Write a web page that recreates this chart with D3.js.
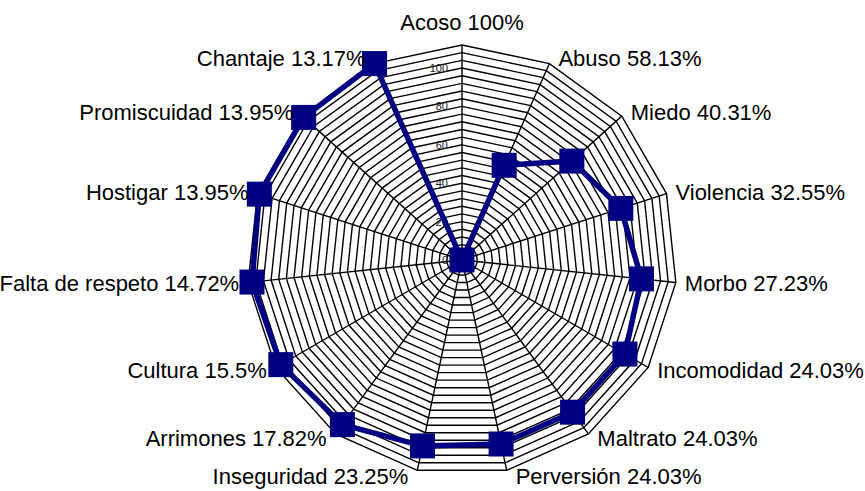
<!DOCTYPE html>
<html>
<head>
<meta charset="utf-8">
<script src="https://cdnjs.cloudflare.com/ajax/libs/d3/7.8.5/d3.min.js"></script>
<style>
  html, body { margin: 0; padding: 0; background: #fff; }
  svg { display: block; }
</style>
</head>
<body>
<svg id="chart" width="865" height="491"></svg>
<script>
// ---- data ----
const categories = ["Acoso", "Abuso", "Miedo", "Violencia", "Morbo", "Incomodidad", "Maltrato",
  "Perversión", "Inseguridad", "Arrimones", "Cultura", "Falta de respeto", "Hostigar",
  "Promiscuidad", "Chantaje"];
const percentLabels = ["100%", "58.13%", "40.31%", "32.55%", "27.23%", "24.03%", "24.03%",
  "24.03%", "23.25%", "17.82%", "15.5%", "14.72%", "13.95%", "13.95%", "13.17%"];
const values = [0, 54, 77, 87, 94, 98, 98, 98, 99, 106, 109, 110, 111, 111, 112];
const tickLabels = [0, 20, 40, 60, 80, 100];
const axisMax = 112;
const ringStep = 4;

// ---- layout ----
const W = 865, H = 491;
const cx = 462, cy = 260, R = 215;
const fontSize = 22;

const svg = d3.select("#chart");
const g = svg.append("g").attr("transform", `translate(${cx},${cy})`);

const n = categories.length;
const angle = d3.scaleLinear().domain([0, n]).range([0, 2 * Math.PI]);
const r = d3.scaleLinear().domain([0, axisMax]).range([0, R]);

const ringValues = d3.range(ringStep, axisMax + 0.001, ringStep);

// rings
const ringLine = d3.lineRadial()
  .angle((d, i) => angle(i))
  .radius(d => r(d))
  .curve(d3.curveLinearClosed);

g.append("g").selectAll("path")
  .data(ringValues)
  .join("path")
  .attr("d", v => ringLine(categories.map(() => v)))
  .attr("fill", "none")
  .attr("stroke", "#000")
  .attr("stroke-width", 1.4);

// spokes
g.append("g").selectAll("line")
  .data(categories)
  .join("line")
  .attr("x1", 0).attr("y1", 0)
  .attr("x2", (d, i) => r(axisMax) * Math.sin(angle(i)))
  .attr("y2", (d, i) => -r(axisMax) * Math.cos(angle(i)))
  .attr("stroke", "#000")
  .attr("stroke-width", 1.4);

// tick labels along first axis
g.append("g").selectAll("text")
  .data(tickLabels)
  .join("text")
  .attr("x", -14)
  .attr("y", d => -r(d) + 4)
  .attr("text-anchor", "end")
  .attr("font-family", "Liberation Sans, Arial, sans-serif")
  .attr("font-size", 11)
  .attr("fill", "#222")
  .text(d => d);

// data line
const dataLine = d3.lineRadial()
  .angle((d, i) => angle(i))
  .radius(d => r(d))
  .curve(d3.curveLinearClosed);

g.append("path")
  .attr("d", dataLine(values))
  .attr("fill", "none")
  .attr("stroke", "#000080")
  .attr("stroke-width", 5.5)
  .attr("stroke-linejoin", "round");

// markers
const ms = 25;
g.append("g").selectAll("rect")
  .data(values)
  .join("rect")
  .attr("x", (d, i) => r(d) * Math.sin(angle(i)) - ms / 2)
  .attr("y", (d, i) => -r(d) * Math.cos(angle(i)) - ms / 2)
  .attr("width", ms).attr("height", ms)
  .attr("fill", "#000080");

// category labels
const gap = 9;
g.append("g").selectAll("text")
  .data(categories)
  .join("text")
  .each(function (d, i) {
    const a = angle(i);
    const s = Math.sin(a), c = Math.cos(a);
    const vx = R * s, vy = -R * c;
    let x, anchor, centerY;
    if (Math.abs(s) < 1e-6) {
      x = vx; anchor = "middle";
      centerY = vy - 23;
    } else {
      x = vx + (s > 0 ? gap : -gap);
      anchor = s > 0 ? "start" : "end";
      centerY = vy - 5.5 * c;
    }
    d3.select(this)
      .attr("x", x)
      .attr("y", centerY + 0.358 * fontSize)
      .attr("text-anchor", anchor);
  })
  .attr("font-family", "Liberation Sans, Arial, sans-serif")
  .attr("font-size", fontSize)
  .attr("fill", "#000")
  .text((d, i) => `${d} ${percentLabels[i]}`);
</script>
</body>
</html>
